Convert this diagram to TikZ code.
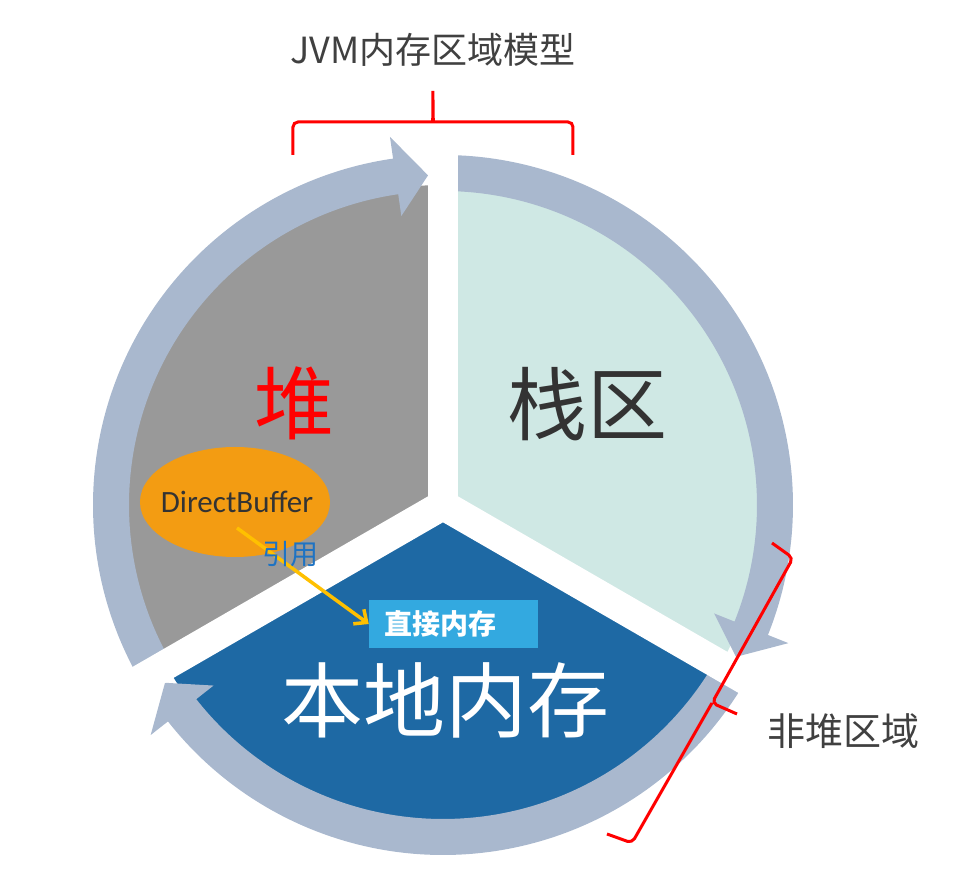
\documentclass[tikz,border=0pt]{standalone}
\usepackage{fontspec}
\setmainfont{Carlito}
\newfontfamily\cjk{Noto Sans CJK SC}
\usetikzlibrary{arrows.meta,calc}
\definecolor{heapgray}{HTML}{999999}
\definecolor{stackteal}{RGB}{207,232,228}
\definecolor{nativeblue}{RGB}{30,105,164}
\definecolor{ringblue}{RGB}{169,184,206}
\definecolor{directblue}{RGB}{51,169,224}
\definecolor{bufferorange}{RGB}{243,156,18}
\definecolor{arrowyellow}{HTML}{FFC000}
\definecolor{refblue}{RGB}{30,115,195}
\definecolor{darktext}{HTML}{333333}
\definecolor{labelgray}{HTML}{404040}
\begin{document}
\begin{tikzpicture}[x=1pt,y=1pt,
	ring/.style={fill=ringblue},
	gap/.style={fill=white},
	brace/.style={draw=red,line width=3pt,rounded corners=5pt},
	huge/.style={font=\cjk\fontsize{80}{90}\selectfont}]
	\useasboundingbox (-443,-383) rectangle (511,505);
	\fill[heapgray] (0,0)--(90:320)arc(90:210:320)--cycle;
	\fill[stackteal] (0,0)--(-30:320)arc(-30:90:320)--cycle;
	\fill[nativeblue] (0,0)--(210:320)arc(210:330:320)--cycle;
	\foreach \a/\b/\t in {210/98.2/92.6,90/-21.8/-27.4,-30/-141.8/-147.4}{
		\fill[ring] (\a:350)arc(\a:\b:350)--(\b:372)--(\t:330)--(\b:292)--(\b:314)arc(\b:\a:314)--cycle;
	};
	\foreach \g in {90,210,330}{
		\fill[gap,rotate=\g] (0,-15)rectangle(380,15);
	};
	\node[font=\cjk\fontsize{36}{40}\selectfont,text=labelgray] (title) at (-10,455) {JVM内存区域模型};
	\node[huge,text=red] (heap) at (-148,102) {堆};
	\node[huge,text=darktext] (stack) at (145,101) {栈区};
	\node[font=\cjk\fontsize{82}{92}\selectfont,text=white] (native) at (3,-195) {本地内存};
	\node[font=\cjk\fontsize{38}{42}\selectfont,text=labelgray] (nonheap) at (400,-226) {非堆区域};
	\fill[bufferorange] (-208,3) ellipse[x radius=95,y radius=55];
	\node[font=\fontsize{31}{36}\selectfont,text=darktext,minimum height=110pt] (db) at (-206,3) {DirectBuffer};
	\node[fill=directblue,minimum height=48pt,text width=137pt,inner xsep=16pt,align=left,font=\cjk\bfseries\fontsize{28}{32}\selectfont,text=white] (dm) at (10.5,-119) {直接内存};
	\draw[-{Straight Barb[length=10pt,width=18pt]},line width=3.5pt,draw=arrowyellow] ($(db.center)!0.47!(db.south)$)--(dm.west)node[pos=0.38,xshift=3pt,yshift=10pt,font=\cjk\fontsize{28}{30}\selectfont,text=refblue](ref){引用};
	\draw[brace] (-150,350)--(-150,383)--(-16,383) .. controls (-10,383) and (-10,392) .. (-10,417) .. controls (-10,392) and (-10,383) .. (-4,383)--(130,383)--(130,350);
	\draw[brace] (329,-38)--(350,-53)--(269,-198)--(294,-209)(269,-198)--(189,-338)--(164,-329);
\end{tikzpicture}
\end{document}
